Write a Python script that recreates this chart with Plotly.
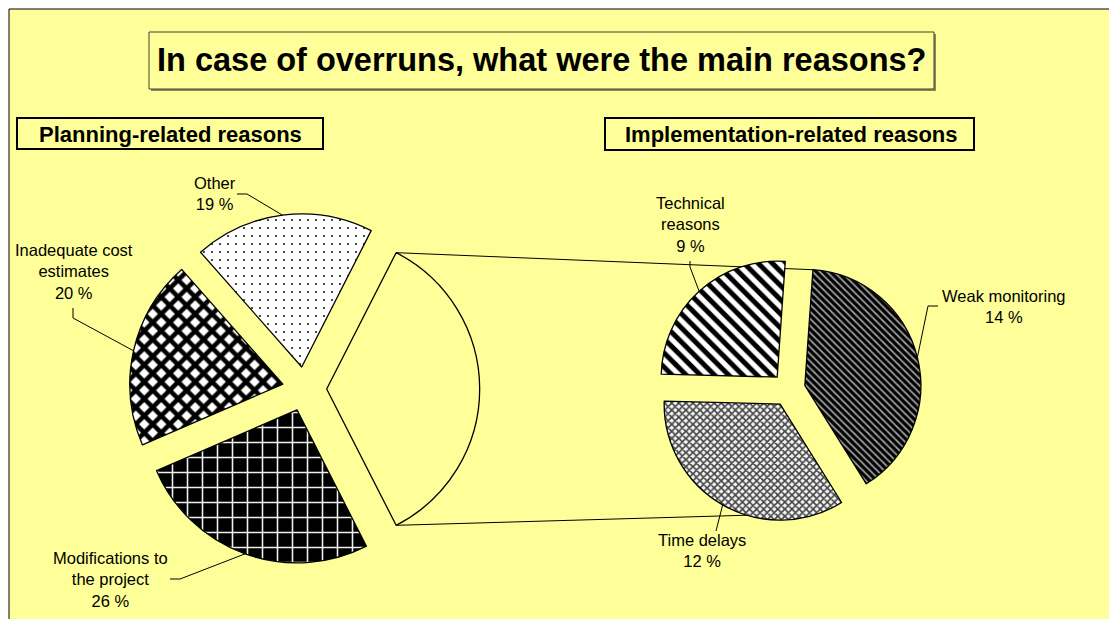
import math
import plotly.graph_objects as go

W, H = 1109, 619

# ---- data ----
planning_labels = ["Other", "Inadequate cost estimates", "Modifications to the project"]
planning_values = [19, 20, 26]
planning_text = ["Other", "Inadequate cost<br>estimates", "Modifications to<br>the project"]

impl_labels = ["Weak monitoring", "Technical reasons", "Time delays"]
impl_values = [14, 9, 12]
impl_text = ["Weak monitoring", "Technical<br>reasons", "Time delays"]
impl_total = sum(impl_values)

title_text = "In case of overruns, what were the main reasons?"
left_header = "Planning-related reasons"
right_header = "Implementation-related reasons"

# ---- layout geometry (pixels) ----
YELLOW = "#FFFF99"
FONT = "Liberation Sans, Arial, sans-serif"
PULL = 0.145
LEFT = dict(cx=304.5, cy=389.0, r=153.0, rot=27)
RIGHT = dict(cx=788.5, cy=389.5, r=116.0, rot=4)


def px(x):
    return x / W


def py(y):
    return 1 - y / H


def domain(g):
    half = g["r"] * (1 + PULL)
    return dict(x=[px(g["cx"] - half), px(g["cx"] + half)],
                y=[py(g["cy"] + half), py(g["cy"] - half)])


def unit(a):
    # angle measured clockwise from 12 o'clock, screen y pointing down
    t = math.radians(a)
    return math.sin(t), -math.cos(t)


def slice_spans(values, rot):
    # counterclockwise pie: first slice sits clockwise of `rot`, the rest run counterclockwise
    tot = sum(values)
    ang = [v / tot * 360 for v in values]
    spans = [(rot, rot + ang[0])]
    cur = rot
    for a in ang[1:]:
        spans.append((cur - a, cur))
        cur -= a
    return spans


def apex(g, span):
    mid = (span[0] + span[1]) / 2
    ux, uy = unit(mid)
    d = PULL * g["r"]
    return g["cx"] + d * ux, g["cy"] + d * uy


def rim_point(g, span, a):
    ax, ay = apex(g, span)
    ux, uy = unit(a)
    return ax + g["r"] * ux, ay + g["r"] * uy


left_vals = [impl_total] + planning_values
left_spans = slice_spans(left_vals, LEFT["rot"])
right_spans = slice_spans(impl_values, RIGHT["rot"])

fig = go.Figure()

fig.add_trace(go.Pie(
    values=left_vals,
    labels=["Implementation-related reasons"] + planning_labels,
    sort=False, direction="counterclockwise", rotation=LEFT["rot"],
    pull=[PULL] * len(left_vals), textinfo="none", hoverinfo="label+percent",
    domain=domain(LEFT), showlegend=False,
    marker=dict(
        colors=[YELLOW, "white", "white", "black"],
        line=dict(color="black", width=1.3),
        pattern=dict(
            shape=[".", ".", "x", "+"],
            fgcolor=[YELLOW, "#222222", "black", "#f0f0f0"],
            bgcolor=[YELLOW, "white", "white", "black"],
            size=[8, 8, 12, 15],
            solidity=[0.1, 0.06, 0.62, 0.2],
            fillmode="replace",
        ),
    ),
))

fig.add_trace(go.Pie(
    values=impl_values, labels=impl_labels,
    sort=False, direction="counterclockwise", rotation=RIGHT["rot"],
    pull=[PULL] * len(impl_values), textinfo="none", hoverinfo="label+percent",
    domain=domain(RIGHT), showlegend=False,
    marker=dict(
        colors=["black", "white", "white"],
        line=dict(color="black", width=1.3),
        pattern=dict(
            shape=["\\", "\\", "x"],
            fgcolor=["black", "black", "#444444"],
            bgcolor=["#9a9a9a", "white", "#f4f4f4"],
            size=[5, 10, 5],
            solidity=[0.65, 0.5, 0.55],
            fillmode="replace",
        ),
    ),
))

shapes = []


def rect(x0, y0, x1, y1, **kw):
    shapes.append(dict(type="rect", xref="paper", yref="paper",
                       x0=px(x0), x1=px(x1), y0=py(y1), y1=py(y0), **kw))


def polyline(points, width=1):
    d = "M " + " L ".join(f"{px(x):.5f},{py(y):.5f}" for x, y in points)
    shapes.append(dict(type="path", xref="paper", yref="paper", path=d,
                       line=dict(color="black", width=width), layer="below"))


# chart area
rect(9, 9, W + 20, H + 20, fillcolor=YELLOW, line=dict(color="black", width=1), layer="below")

# title box with a soft shadow
rect(151, 34, 936, 91, fillcolor="#8a8a60", line=dict(width=0), layer="below")
rect(149, 32, 934, 89, fillcolor=YELLOW, line=dict(color="#404030", width=1), layer="below")
# section header boxes
rect(17, 118, 323, 149, fillcolor=YELLOW, line=dict(color="black", width=2), layer="below")
rect(605, 118, 974, 150, fillcolor=YELLOW, line=dict(color="black", width=2), layer="below")

# connector lines between the two pies
blank = left_spans[0]
weak = right_spans[0]
delays = right_spans[2]
polyline([rim_point(LEFT, blank, blank[0]), rim_point(RIGHT, weak, weak[0])])
polyline([rim_point(LEFT, blank, blank[1]), rim_point(RIGHT, delays, 160)])

annotations = []


def text(x, y, s, size, bold=False, align="center"):
    annotations.append(dict(
        x=px(x), y=py(y), xref="paper", yref="paper", text=s, showarrow=False,
        xanchor="center", yanchor="middle", align=align,
        font=dict(family=FONT, size=size, color="black",
                  weight="bold" if bold else "normal")))


text(541.5, 60, title_text, 32.5, bold=True)
text(170.5, 134, left_header, 22, bold=True)
text(791.5, 134, right_header, 22, bold=True)

LABEL_SIZE = 16.5

# label blocks: centre position plus the elbow of each leader line
left_label_pos = [
    dict(c=(215, 194), path=[(237, 194), (247, 194)]),
    dict(c=(74, 271), path=[(73, 308), (73, 318)]),
    dict(c=(110, 579), path=[(170, 579), (180, 579)]),
]
right_label_pos = [
    dict(c=(1004, 306), path=[(938, 306), (928, 306)]),
    dict(c=(691, 224), path=[(690, 261), (690, 267)]),
    dict(c=(702, 550), path=[(716, 531)]),
]

for i, (lab, val) in enumerate(zip(planning_text, planning_values)):
    pos = left_label_pos[i]
    text(*pos["c"], f"{lab}<br>{val} %", LABEL_SIZE)
    span = left_spans[i + 1]
    anchor = rim_point(LEFT, span, (span[0] + span[1]) / 2)
    polyline(pos["path"] + [anchor])

for i, (lab, val) in enumerate(zip(impl_text, impl_values)):
    pos = right_label_pos[i]
    text(*pos["c"], f"{lab}<br>{val} %", LABEL_SIZE)
    span = right_spans[i]
    anchor = rim_point(RIGHT, span, (span[0] + span[1]) / 2)
    polyline(pos["path"] + [anchor])

fig.update_layout(
    width=W, height=H, autosize=False,
    margin=dict(l=0, r=0, t=0, b=0),
    paper_bgcolor="white", plot_bgcolor="white",
    showlegend=False,
    shapes=shapes, annotations=annotations,
    font=dict(family=FONT),
)

fig.write_html("out.html")
